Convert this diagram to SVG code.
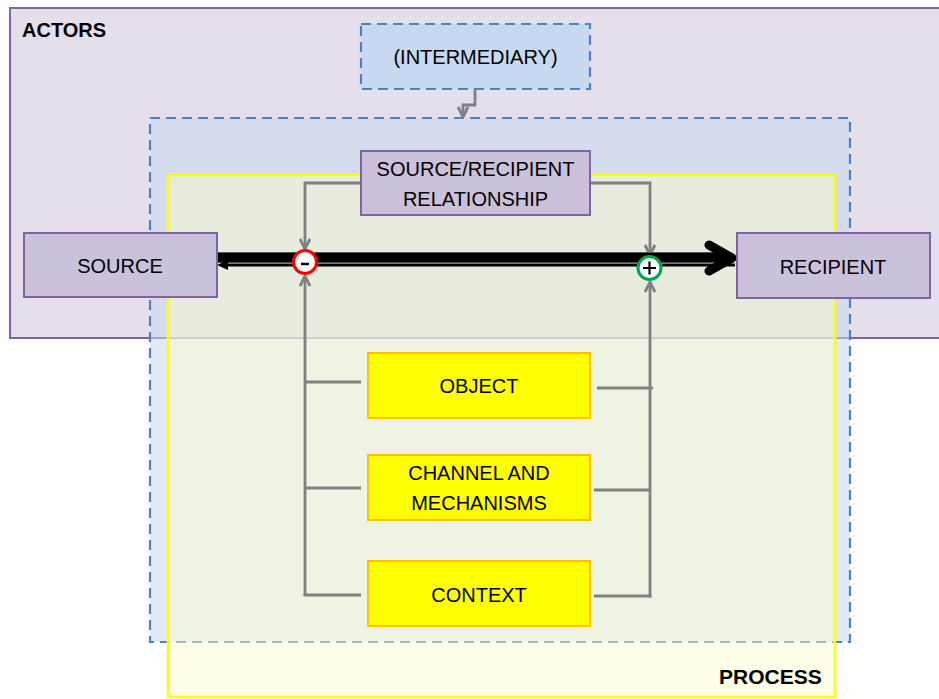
<svg xmlns="http://www.w3.org/2000/svg" width="939" height="699" viewBox="0 0 939 699">
<style>
text{font-family:"Liberation Sans",Arial,sans-serif;font-size:20px;fill:#000;text-anchor:middle}
.hdr{font-weight:bold;font-size:20px;text-anchor:start}
.actor{fill:#ccc1da;stroke:#8064a2;stroke-width:2}
.proc{fill:#ffff00;stroke:#ffc000;stroke-width:2}
.gl{fill:none;stroke:#808080;stroke-width:2.8}
.dash{stroke:#4f81bd;stroke-width:2.2;stroke-dasharray:10,6}
</style>
<defs>
<marker id="v" viewBox="0 0 12 12" refX="11" refY="6" markerWidth="12" markerHeight="12" markerUnits="userSpaceOnUse" orient="auto">
<path d="M1,1 L11,6 L1,11" fill="none" stroke="#808080" stroke-width="2.8"/>
</marker>
</defs>
<g id="actors">
<rect x="10" y="8" width="940" height="330" fill="#e5dfec" stroke="#8064a2" stroke-width="2"/>
<text class="hdr" x="22" y="37">ACTORS</text>
</g>
<g id="process-outer">
<rect class="dash" x="150" y="118" width="700" height="524" fill="#c6d9f1" fill-opacity="0.55"/>
</g>
<g id="process">
<rect x="168" y="175" width="667" height="522" fill="#ffffcc" fill-opacity="0.45" stroke="#ffff00" stroke-width="2.5"/>
<text class="hdr" x="719" y="684" style="font-size:21px">PROCESS</text>
</g>
<g id="intermediary">
<rect class="dash" x="361" y="24" width="229" height="65" fill="#c6d9f1"/>
<text x="475.5" y="64">(INTERMEDIARY)</text>
</g>
<g id="connectors">
<path class="gl" d="M475,89 V105 H463 V117" marker-end="url(#v)"/>
<path class="gl" d="M361,183 H305 V249" marker-end="url(#v)"/>
<path class="gl" d="M590,183 H650 V255" marker-end="url(#v)"/>
<path class="gl" d="M305,596 V276" marker-end="url(#v)"/>
<path class="gl" d="M305,382 H361 M305,488 H361 M303.6,595 H361"/>
<path class="gl" d="M650,597.4 V282" marker-end="url(#v)"/>
<path class="gl" d="M597,388 H653 M594,490 H650 M594,596 H651.4"/>
<path d="M217,257.5 H728" stroke="#555" stroke-width="11"/>
<path d="M217,257.5 H728" stroke="#000" stroke-width="9"/>
<path d="M709,245 L732,258 L709,271" fill="none" stroke="#000" stroke-width="9" stroke-linecap="round" stroke-linejoin="round"/>
<path d="M226,265 H735" stroke="#000" stroke-width="3"/>
<path d="M217,265 L228,260 L228,270 Z" fill="#000"/>
<circle cx="305" cy="262" r="11.5" fill="#fff" stroke="#ff0000" stroke-width="3"/>
<path d="M301,264 H309" stroke="#000" stroke-width="2.5"/>
<circle cx="649.5" cy="268" r="11.5" fill="#fff" stroke="#00a650" stroke-width="3"/>
<path d="M643,268 H656 M649.5,261.5 V274.5" stroke="#000" stroke-width="2.2"/>
</g>
<g id="relationship">
<rect class="actor" x="361" y="151" width="229" height="64"/>
<text x="475.5" y="176">SOURCE/RECIPIENT</text>
<text x="475.5" y="206">RELATIONSHIP</text>
</g>
<g id="source">
<rect class="actor" x="24" y="233" width="193" height="64"/>
<text x="120" y="273">SOURCE</text>
</g>
<g id="recipient">
<rect class="actor" x="737" y="233" width="193" height="65"/>
<text x="833" y="274">RECIPIENT</text>
</g>
<g id="object">
<rect class="proc" x="368" y="353" width="222" height="65"/>
<text x="479" y="393">OBJECT</text>
</g>
<g id="channel">
<rect class="proc" x="368" y="455" width="222" height="65"/>
<text x="479" y="480">CHANNEL AND</text>
<text x="479" y="510">MECHANISMS</text>
</g>
<g id="context">
<rect class="proc" x="368" y="561" width="222" height="65"/>
<text x="479" y="602">CONTEXT</text>
</g>
</svg>
